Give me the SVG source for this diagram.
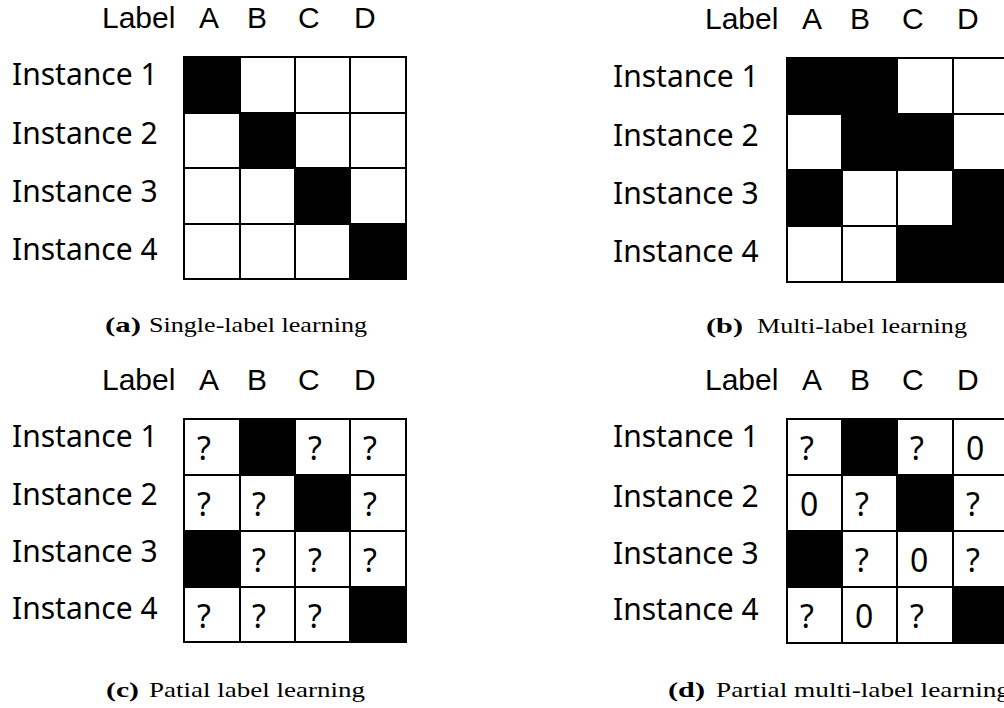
<svg xmlns="http://www.w3.org/2000/svg" width="1004" height="708" viewBox="0 0 1004 708">
<style>
.t{font-family:"Noto Sans","Liberation Sans",sans-serif;font-size:30px;fill:#000}
.h{font-family:"Liberation Sans","Noto Sans",sans-serif;font-size:30px;fill:#000}
.q{font-family:"Noto Sans","Liberation Sans",sans-serif;font-size:32px;fill:#000}
.w{fill:#fff;stroke:#000;stroke-width:2}
.k{fill:#000;stroke:#000;stroke-width:2}
.cb{font-family:"Liberation Serif","DejaVu Serif",serif;font-size:21px;font-weight:bold;fill:#000}
.cr{font-family:"Liberation Serif","DejaVu Serif",serif;font-size:21px;fill:#000}
</style>
<rect width="1004" height="708" fill="#fff"/>

<g id="panel-a">
<text class="h" x="102" y="28">Label</text>
<text class="h" x="199" y="28">A</text>
<text class="h" x="247" y="28">B</text>
<text class="h" x="298" y="28">C</text>
<text class="h" x="354" y="28">D</text>
<text class="t" x="12" y="85">Instance 1</text>
<text class="t" x="12" y="144">Instance 2</text>
<text class="t" x="12" y="202">Instance 3</text>
<text class="t" x="12" y="260">Instance 4</text>
<rect class="k" x="184" y="57" width="56" height="56"/><rect class="w" x="240" y="57" width="55" height="56"/><rect class="w" x="295" y="57" width="55" height="56"/><rect class="w" x="350" y="57" width="56" height="56"/>
<rect class="w" x="184" y="113" width="56" height="55"/><rect class="k" x="240" y="113" width="55" height="55"/><rect class="w" x="295" y="113" width="55" height="55"/><rect class="w" x="350" y="113" width="56" height="55"/>
<rect class="w" x="184" y="168" width="56" height="56"/><rect class="w" x="240" y="168" width="55" height="56"/><rect class="k" x="295" y="168" width="55" height="56"/><rect class="w" x="350" y="168" width="56" height="56"/>
<rect class="w" x="184" y="224" width="56" height="55"/><rect class="w" x="240" y="224" width="55" height="55"/><rect class="w" x="295" y="224" width="55" height="55"/><rect class="k" x="350" y="224" width="56" height="55"/>
<text class="cb" x="105" y="332" textLength="36" lengthAdjust="spacingAndGlyphs">(a)</text>
<text class="cr" x="149" y="332" textLength="218" lengthAdjust="spacingAndGlyphs">Single-label learning</text>
</g>

<g id="panel-b">
<text class="h" x="705" y="29">Label</text>
<text class="h" x="802" y="29">A</text>
<text class="h" x="850" y="29">B</text>
<text class="h" x="902" y="29">C</text>
<text class="h" x="957" y="29">D</text>
<text class="t" x="613" y="87">Instance 1</text>
<text class="t" x="613" y="146">Instance 2</text>
<text class="t" x="613" y="204">Instance 3</text>
<text class="t" x="613" y="262">Instance 4</text>
<rect class="k" x="787" y="58" width="55" height="56"/><rect class="k" x="842" y="58" width="55" height="56"/><rect class="w" x="897" y="58" width="56" height="56"/><rect class="w" x="953" y="58" width="55" height="56"/>
<rect class="w" x="787" y="114" width="55" height="56"/><rect class="k" x="842" y="114" width="55" height="56"/><rect class="k" x="897" y="114" width="56" height="56"/><rect class="w" x="953" y="114" width="55" height="56"/>
<rect class="k" x="787" y="170" width="55" height="56"/><rect class="w" x="842" y="170" width="55" height="56"/><rect class="w" x="897" y="170" width="56" height="56"/><rect class="k" x="953" y="170" width="55" height="56"/>
<rect class="w" x="787" y="226" width="55" height="56"/><rect class="w" x="842" y="226" width="55" height="56"/><rect class="k" x="897" y="226" width="56" height="56"/><rect class="k" x="953" y="226" width="55" height="56"/>
<text class="cb" x="706" y="333" textLength="37" lengthAdjust="spacingAndGlyphs">(b)</text>
<text class="cr" x="757" y="333" textLength="210" lengthAdjust="spacingAndGlyphs">Multi-label learning</text>
</g>

<g id="panel-c">
<text class="h" x="102" y="390">Label</text>
<text class="h" x="199" y="390">A</text>
<text class="h" x="247" y="390">B</text>
<text class="h" x="298" y="390">C</text>
<text class="h" x="354" y="390">D</text>
<text class="t" x="12" y="447">Instance 1</text>
<text class="t" x="12" y="505">Instance 2</text>
<text class="t" x="12" y="562">Instance 3</text>
<text class="t" x="12" y="619">Instance 4</text>
<rect class="w" x="184" y="419" width="56" height="56"/><rect class="k" x="240" y="419" width="55" height="56"/><rect class="w" x="295" y="419" width="55" height="56"/><rect class="w" x="350" y="419" width="56" height="56"/>
<rect class="w" x="184" y="475" width="56" height="56"/><rect class="w" x="240" y="475" width="55" height="56"/><rect class="k" x="295" y="475" width="55" height="56"/><rect class="w" x="350" y="475" width="56" height="56"/>
<rect class="k" x="184" y="531" width="56" height="56"/><rect class="w" x="240" y="531" width="55" height="56"/><rect class="w" x="295" y="531" width="55" height="56"/><rect class="w" x="350" y="531" width="56" height="56"/>
<rect class="w" x="184" y="587" width="56" height="55"/><rect class="w" x="240" y="587" width="55" height="55"/><rect class="w" x="295" y="587" width="55" height="55"/><rect class="k" x="350" y="587" width="56" height="55"/>
<text class="q" x="197" y="460">?</text><text class="q" x="308" y="460">?</text><text class="q" x="363" y="460">?</text>
<text class="q" x="197" y="516">?</text><text class="q" x="252" y="516">?</text><text class="q" x="363" y="516">?</text>
<text class="q" x="252" y="572">?</text><text class="q" x="308" y="572">?</text><text class="q" x="363" y="572">?</text>
<text class="q" x="197" y="628">?</text><text class="q" x="252" y="628">?</text><text class="q" x="308" y="628">?</text>
<text class="cb" x="106" y="697" textLength="33" lengthAdjust="spacingAndGlyphs">(c)</text>
<text class="cr" x="149" y="697" textLength="216" lengthAdjust="spacingAndGlyphs">Patial label learning</text>
</g>

<g id="panel-d">
<text class="h" x="705" y="390">Label</text>
<text class="h" x="802" y="390">A</text>
<text class="h" x="850" y="390">B</text>
<text class="h" x="902" y="390">C</text>
<text class="h" x="957" y="390">D</text>
<text class="t" x="613" y="447">Instance 1</text>
<text class="t" x="613" y="507">Instance 2</text>
<text class="t" x="613" y="564">Instance 3</text>
<text class="t" x="613" y="620">Instance 4</text>
<rect class="w" x="787" y="419" width="55" height="56"/><rect class="k" x="842" y="419" width="55" height="56"/><rect class="w" x="897" y="419" width="56" height="56"/><rect class="w" x="953" y="419" width="55" height="56"/>
<rect class="w" x="787" y="475" width="55" height="56"/><rect class="w" x="842" y="475" width="55" height="56"/><rect class="k" x="897" y="475" width="56" height="56"/><rect class="w" x="953" y="475" width="55" height="56"/>
<rect class="k" x="787" y="531" width="55" height="56"/><rect class="w" x="842" y="531" width="55" height="56"/><rect class="w" x="897" y="531" width="56" height="56"/><rect class="w" x="953" y="531" width="55" height="56"/>
<rect class="w" x="787" y="587" width="55" height="56"/><rect class="w" x="842" y="587" width="55" height="56"/><rect class="w" x="897" y="587" width="56" height="56"/><rect class="k" x="953" y="587" width="55" height="56"/>
<text class="q" x="800" y="460">?</text><text class="q" x="910" y="460">?</text><text class="q" x="966" y="460">0</text>
<text class="q" x="800" y="516">0</text><text class="q" x="855" y="516">?</text><text class="q" x="966" y="516">?</text>
<text class="q" x="855" y="572">?</text><text class="q" x="910" y="572">0</text><text class="q" x="966" y="572">?</text>
<text class="q" x="800" y="628">?</text><text class="q" x="855" y="628">0</text><text class="q" x="910" y="628">?</text>
<text class="cb" x="668" y="697" textLength="37" lengthAdjust="spacingAndGlyphs">(d)</text>
<text class="cr" x="716" y="697" textLength="294" lengthAdjust="spacingAndGlyphs">Partial multi-label learning</text>
</g>
</svg>
